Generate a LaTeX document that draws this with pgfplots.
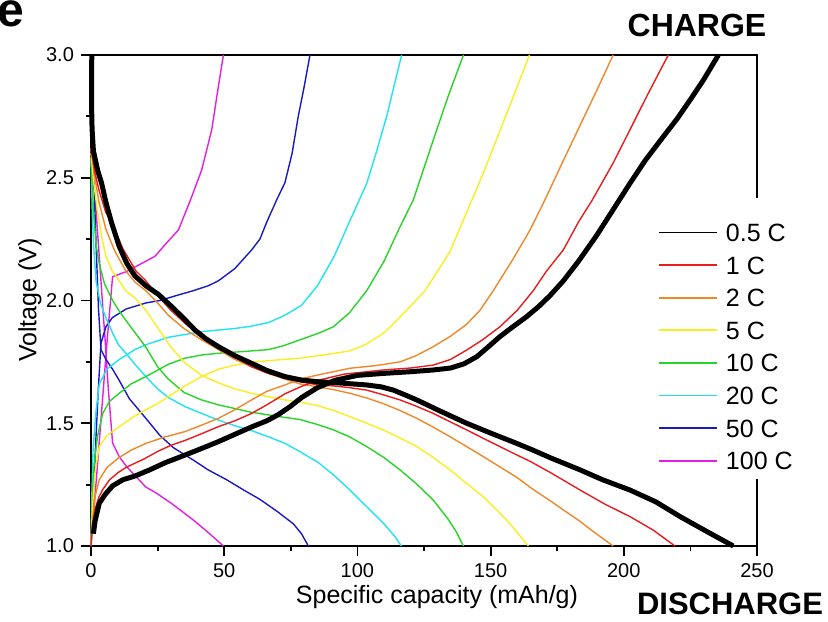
\documentclass[border=0pt]{standalone}
\usepackage{pgfplots}
\pgfplotsset{compat=1.18}
\usepackage{fontspec}
\setmainfont{Liberation Sans}
\definecolor{cRed}{RGB}{232,28,28}
\definecolor{cOrange}{RGB}{240,135,40}
\definecolor{cYellow}{RGB}{250,238,30}
\definecolor{cGreen}{RGB}{40,212,40}
\definecolor{cCyan}{RGB}{30,228,240}
\definecolor{cBlue}{RGB}{25,25,195}
\definecolor{cMag}{RGB}{228,30,228}
\begin{document}
\begin{tikzpicture}
\path[use as bounding box] (-45.5pt,-37.5pt) rectangle (368.5pt,273pt);
\begin{axis}[
  at={(0,0)}, anchor=south west,
  scale only axis, width=333pt, height=245.5pt,
  xmin=0, xmax=250, ymin=1, ymax=3, clip=false,
  xtick={0,50,...,250}, ytick={1,1.5,...,3},
  minor x tick num=1, minor y tick num=1,
  tick align=outside, tick pos=left,
  major tick length=5pt, minor tick length=2.5pt,
  axis line style={line width=1pt}, every tick/.style={line width=0.9pt, black},
  tick label style={font=\fontsize{10}{12}\selectfont},
  /pgf/number format/assume math mode=true,
  yticklabel style={/pgf/number format/.cd, fixed, fixed zerofill, precision=1},
  xlabel={Specific capacity (mAh/g)},
  ylabel={Voltage (V)},
  label style={font=\fontsize{12.5}{14}\selectfont},
  xlabel style={at={(axis description cs:0.5195,-0.1039)}, anchor=center},
  ylabel style={at={(axis description cs:-0.0916,0.501)}, anchor=center},
  reverse legend,
  legend cell align=left,
  legend image code/.code={\draw[#1,line width=0.9pt] (0pt,0pt) -- (29pt,0pt);},
  legend style={at={(axis description cs:0.848,0.676)}, anchor=north west, draw=none, fill=white,
    inner xsep=1pt, inner ysep=3pt, font=\fontsize{12.5}{14}\selectfont,
    nodes={inner sep=1.5pt, text height=9pt, text depth=0pt}, row sep=4.3pt,
    /tikz/every odd column/.append style={column sep=2.5pt}},
]
\fill[white] (rel axis cs:0.99,0.1385) rectangle (rel axis cs:1.01,0.7088);
% 100 C
\addplot[cMag, line width=0.7pt] coordinates {(0,1.0)(2,1.27)(4,1.55)(6,1.83)(8.1,2.097)(13.1,2.117)(20.6,2.16)(24,2.18)(28,2.23)(32.8,2.287)(37,2.40)(41.5,2.53)(45.3,2.694)(47.5,2.85)(49.7,3.0)};
\addlegendentry{100 C}
\addplot[cMag, line width=0.7pt, forget plot] coordinates {(0,2.62)(0.6,2.56)(2,2.35)(3.1,2.18)(4.5,1.96)(5.3,1.84)(6.5,1.64)(8.1,1.42)(10.6,1.364)(13.4,1.323)(20.6,1.24)(24.6,1.215)(30,1.175)(38.4,1.106)(44,1.055)(49.7,1.0)};
% 50 C
\addplot[cBlue, line width=0.7pt] coordinates {(0,1.0)(0.5,1.12)(1,1.24)(1.9,1.45)(2.8,1.65)(3.75,1.826)(5.6,1.893)(8,1.93)(13.1,1.965)(20.6,1.99)(25.9,2.0)(32,2.02)(38.4,2.04)(44,2.06)(47.8,2.08)(54,2.13)(60.3,2.206)(63.4,2.25)(66,2.32)(69.7,2.41)(72.8,2.48)(75.5,2.6)(77.8,2.75)(80,2.87)(82.2,3.0)};
\addlegendentry{50 C}
\addplot[cBlue, line width=0.7pt, forget plot] coordinates {(0,2.58)(1.2,2.45)(2,2.2)(2.8,1.97)(3.75,1.8)(5.6,1.76)(8.1,1.72)(10.3,1.68)(14.4,1.60)(20.6,1.52)(25.9,1.45)(31,1.40)(38.4,1.35)(44,1.31)(50.9,1.27)(57,1.23)(63.4,1.19)(70,1.14)(76,1.09)(79,1.05)(81.6,1.0)};
% 20 C
\addplot[cCyan, line width=0.7pt] coordinates {(0,1.0)(0.3,1.2)(0.8,1.4)(1.9,1.55)(3.1,1.66)(6,1.72)(10.6,1.76)(16.5,1.80)(20.6,1.82)(29,1.85)(41.5,1.873)(54,1.886)(60,1.895)(66.6,1.91)(72.8,1.94)(79,1.98)(85,2.06)(91.3,2.18)(97,2.32)(103.5,2.477)(107,2.6)(111,2.75)(116.6,3.0)};
\addlegendentry{20 C}
\addplot[cCyan, line width=0.7pt, forget plot] coordinates {(0,2.58)(0.5,2.35)(1,2.22)(1.9,2.08)(3.5,1.99)(5.6,1.93)(8,1.87)(10.3,1.82)(13.1,1.785)(16.5,1.74)(20.6,1.69)(25,1.64)(29,1.605)(35.3,1.568)(41.5,1.54)(47.8,1.513)(54,1.49)(60.3,1.47)(66.6,1.445)(72.8,1.418)(78.5,1.384)(85.3,1.34)(91,1.29)(97,1.23)(103.5,1.16)(110,1.09)(114,1.04)(116.5,1.0)};
% 10 C
\addplot[cGreen, line width=0.7pt] coordinates {(0,1.0)(0.5,1.2)(1.2,1.337)(2.5,1.45)(4.4,1.54)(7,1.59)(10.6,1.622)(15,1.66)(20.6,1.69)(22.8,1.703)(29,1.74)(35.3,1.765)(41.5,1.778)(47.8,1.785)(57,1.792)(66.6,1.8)(72,1.815)(78.5,1.84)(85,1.865)(91,1.893)(97,1.95)(103.5,2.04)(110,2.16)(116,2.30)(121,2.41)(128.5,2.654)(134,2.83)(139.8,3.0)};
\addlegendentry{10 C}
\addplot[cGreen, line width=0.7pt, forget plot] coordinates {(0,2.58)(1,2.35)(2,2.22)(3.1,2.15)(5,2.07)(8.1,2.0)(11,1.95)(14.4,1.9)(20.6,1.81)(25,1.73)(29,1.68)(35,1.625)(41.5,1.595)(47.8,1.575)(54,1.56)(60,1.545)(66.6,1.534)(72,1.525)(78.5,1.515)(85,1.495)(91,1.473)(97,1.445)(103.5,1.405)(110,1.36)(116,1.31)(122,1.255)(128.5,1.187)(134,1.11)(137,1.06)(139.8,1.0)};
% 5 C
\addplot[cYellow, line width=0.7pt] coordinates {(0,1.0)(0.5,1.15)(1.5,1.3)(3.1,1.405)(6,1.45)(10.6,1.486)(16.5,1.53)(20.6,1.555)(25,1.58)(29,1.608)(35,1.65)(41.5,1.69)(47.8,1.72)(54,1.737)(60,1.748)(66.6,1.755)(78.5,1.765)(91.6,1.785)(97.2,1.795)(103,1.82)(109.7,1.866)(114,1.91)(118.5,1.961)(125.4,2.04)(134.8,2.2)(143,2.41)(147.3,2.52)(156,2.76)(164.6,3.0)};
\addlegendentry{5 C}
\addplot[cYellow, line width=0.7pt, forget plot] coordinates {(0,2.6)(1,2.48)(2.5,2.36)(4,2.26)(5.6,2.18)(8,2.12)(10.6,2.08)(13,2.04)(16.5,2.01)(20.6,1.96)(25,1.89)(30,1.81)(35.3,1.745)(41.5,1.695)(47.8,1.665)(54,1.64)(60.3,1.622)(66.6,1.608)(72.8,1.595)(78.5,1.586)(85,1.572)(91.6,1.55)(97.2,1.527)(103.5,1.50)(109.7,1.473)(116,1.44)(122.3,1.405)(128.5,1.36)(134.8,1.31)(141,1.255)(147.3,1.2)(152,1.15)(156,1.106)(160,1.055)(164.2,1.0)};
% 2 C
\addplot[cOrange, line width=0.7pt] coordinates {(0,1.0)(0.5,1.1)(1.5,1.2)(3.1,1.27)(6,1.32)(10.5,1.36)(15,1.39)(20.6,1.418)(28,1.445)(35.3,1.466)(41,1.49)(47.8,1.52)(54,1.555)(60.3,1.595)(66,1.63)(72.8,1.656)(78.5,1.68)(85.3,1.697)(97.2,1.724)(107,1.735)(116,1.75)(122,1.775)(128.5,1.812)(135,1.855)(141,1.903)(146,1.96)(151,2.04)(158.5,2.17)(164.8,2.287)(170.4,2.41)(177.3,2.57)(183,2.70)(189.8,2.855)(196,3.0)};
\addlegendentry{2 C}
\addplot[cOrange, line width=0.7pt, forget plot] coordinates {(0,2.62)(1.5,2.5)(3,2.4)(5.6,2.29)(9,2.2)(13.1,2.12)(16.5,2.075)(20.6,2.04)(25,1.99)(29,1.94)(35,1.885)(41.5,1.84)(47.8,1.80)(54,1.76)(60.3,1.73)(66.6,1.703)(72.8,1.68)(78.5,1.66)(85.3,1.648)(91,1.637)(97.2,1.622)(103.5,1.603)(109.7,1.58)(116,1.552)(122.3,1.52)(128.5,1.484)(134.8,1.445)(141,1.405)(147.3,1.364)(153.5,1.322)(159.8,1.28)(166,1.23)(172.3,1.185)(177.3,1.147)(183,1.105)(189,1.055)(196,1.0)};
% 1 C
\addplot[cRed, line width=0.7pt] coordinates {(0,1.0)(0.5,1.08)(1.5,1.15)(3,1.2)(4.4,1.23)(7,1.27)(10.3,1.30)(13.1,1.32)(20,1.355)(25,1.385)(30,1.41)(35.3,1.43)(41,1.455)(47.8,1.486)(54,1.51)(60.3,1.54)(66,1.575)(72.8,1.62)(79,1.65)(85.3,1.675)(95,1.70)(109.7,1.717)(120,1.725)(128.5,1.737)(135,1.76)(141,1.798)(147,1.84)(153.5,1.893)(160,1.96)(166,2.04)(171,2.12)(177.3,2.206)(183,2.32)(188.2,2.41)(196,2.56)(202.3,2.695)(209,2.84)(216.7,3.0)};
\addlegendentry{1 C}
\addplot[cRed, line width=0.7pt, forget plot] coordinates {(0,2.62)(1.5,2.52)(3,2.45)(5.5,2.36)(8.1,2.31)(12,2.21)(16.9,2.12)(20.6,2.08)(25,2.02)(30,1.96)(35.3,1.907)(41,1.855)(47.8,1.81)(54,1.77)(60.3,1.73)(66,1.705)(72.8,1.683)(79,1.668)(85.3,1.656)(91,1.652)(97,1.645)(103.5,1.635)(110,1.615)(116,1.595)(122,1.57)(128.5,1.54)(135,1.505)(141,1.473)(147,1.44)(153.5,1.405)(160,1.37)(164.8,1.345)(172.3,1.30)(183.6,1.228)(193,1.17)(202.3,1.12)(211,1.065)(219.2,1.0)};
% 0.5 C
\addplot[black, line width=2.5pt] coordinates {(0.9,1.05)(1.5,1.10)(3.1,1.174)(5.3,1.21)(8.1,1.245)(12,1.27)(16.5,1.285)(22,1.31)(28,1.34)(34,1.365)(41,1.395)(47.8,1.425)(54,1.455)(60.3,1.485)(66,1.51)(70.3,1.535)(75,1.57)(79.1,1.605)(85,1.645)(91.6,1.675)(100,1.695)(109.7,1.703)(120,1.71)(128.5,1.717)(135,1.725)(140,1.742)(144.8,1.771)(149,1.81)(153.5,1.853)(158,1.89)(163.5,1.934)(168,1.975)(172.3,2.02)(177.3,2.08)(183,2.16)(189.8,2.265)(196,2.37)(202.3,2.477)(208,2.57)(214.8,2.667)(220,2.74)(224.9,2.817)(230,2.9)(235.5,3.0)};
\addlegendentry{0.5 C}
\addplot[black, line width=2.5pt, forget plot] coordinates {(0.3,3.0)(0.2,2.9)(0.2,2.8)(0.4,2.7)(0.9,2.61)(2.5,2.53)(4,2.477)(5.6,2.40)(7.8,2.314)(10.6,2.22)(13.5,2.15)(16.5,2.10)(20.6,2.06)(25.3,2.025)(30.3,1.975)(35,1.925)(39,1.88)(43,1.845)(47.8,1.812)(54,1.775)(60.3,1.744)(66,1.715)(72.8,1.69)(79,1.676)(85.3,1.669)(92,1.665)(103.5,1.656)(109,1.648)(113.5,1.635)(118,1.615)(122.3,1.595)(131,1.55)(141,1.50)(150,1.46)(159.8,1.418)(166,1.39)(172.3,1.36)(183.6,1.31)(192,1.27)(202.3,1.228)(212,1.18)(221.1,1.12)(231,1.06)(241.1,1.0)};
\end{axis}
\node[font=\bfseries\fontsize{16}{18}\selectfont] at (303pt,260.5pt) {CHARGE};
\node[font=\bfseries\fontsize{15.5}{18}\selectfont] at (319.5pt,-29pt) {DISCHARGE};
\node[font=\bfseries\fontsize{24}{26}\selectfont, anchor=center] at (-40pt,266pt) {e};
\end{tikzpicture}
\end{document}
